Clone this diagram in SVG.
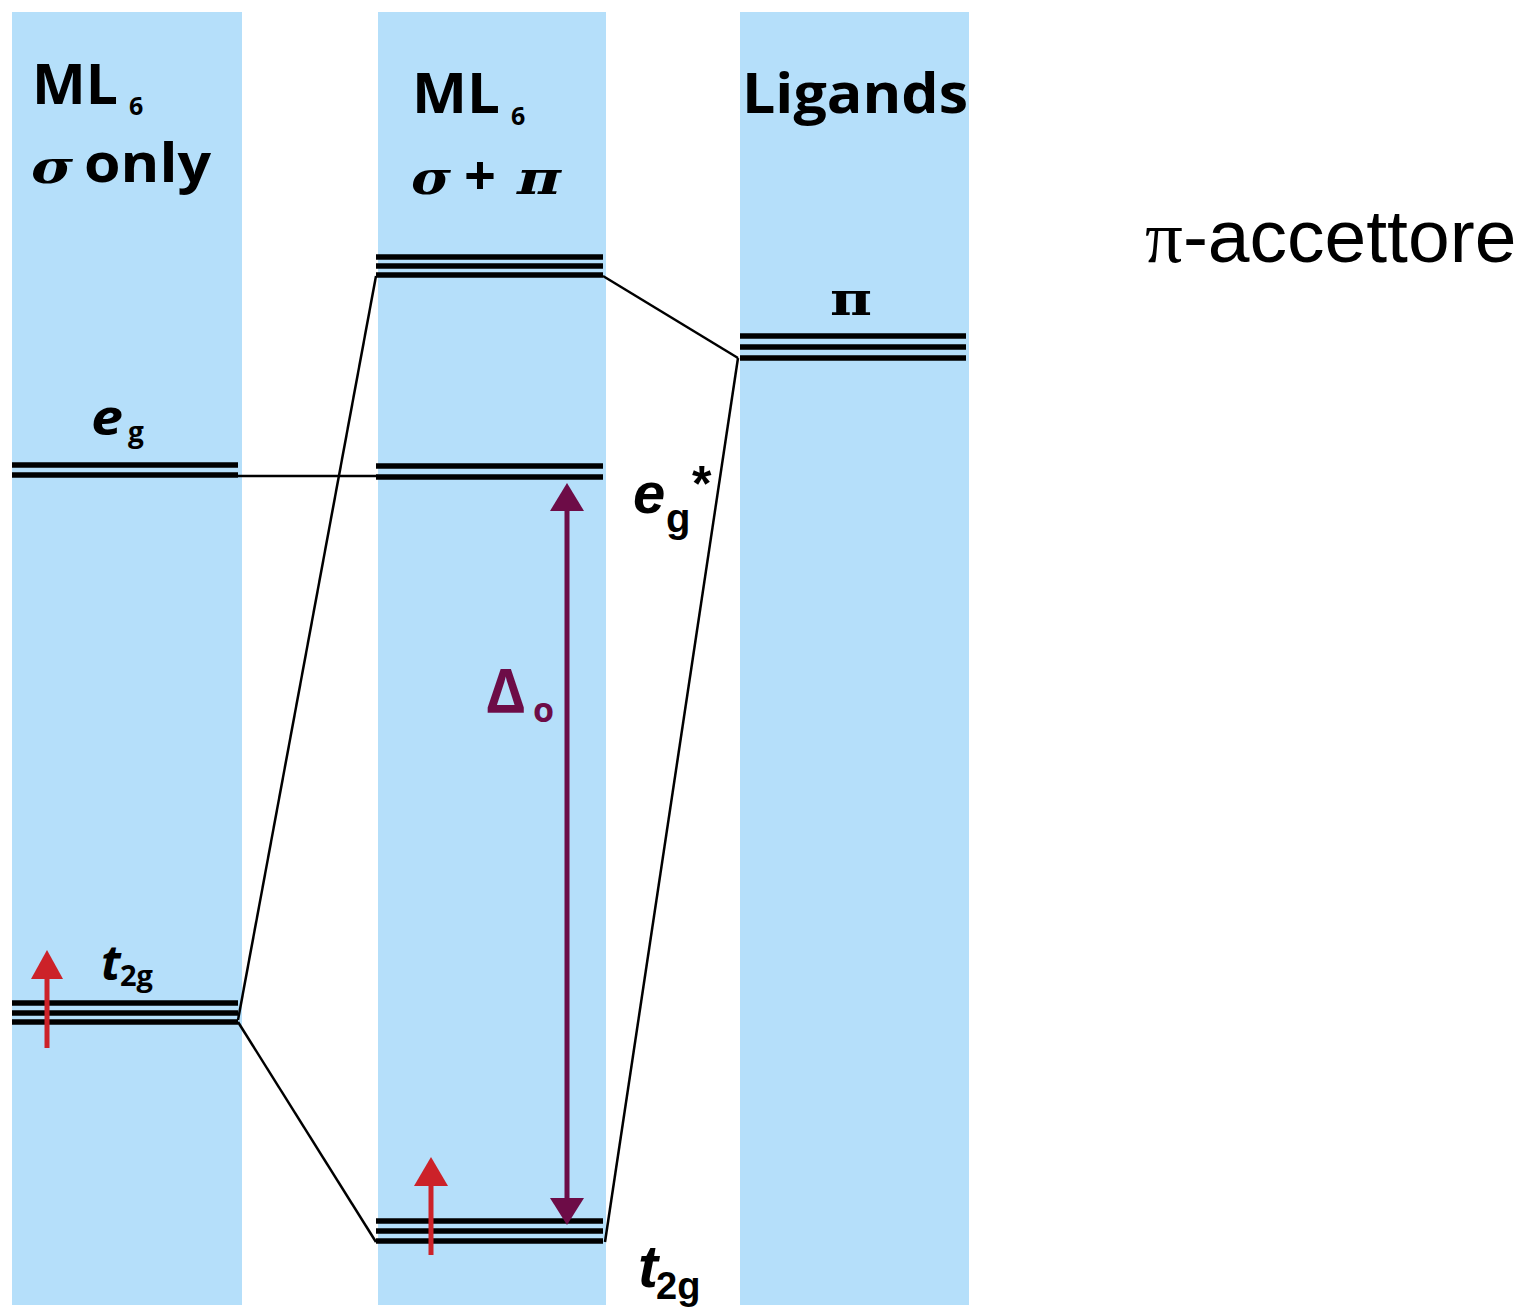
<svg xmlns="http://www.w3.org/2000/svg" width="1523" height="1307" viewBox="0 0 1523 1307">
<defs>
<style>
.col{fill:#b5dffa}
.lvl{stroke:#000;stroke-width:5.5;fill:none}
.con{stroke:#000;stroke-width:2.5;fill:none}
.hd{font-family:"Open Sans","Liberation Sans",sans-serif;font-weight:bold;fill:#000}
.gk{font-family:"DejaVu Serif","Liberation Serif",serif;font-weight:bold;font-style:italic;fill:#000}
.it{font-family:"Open Sans","Liberation Sans",sans-serif;font-weight:bold;font-style:italic;fill:#000}
.ar{font-family:"Liberation Sans",Arial,sans-serif;font-weight:bold;fill:#000}
.ari{font-family:"Liberation Sans",Arial,sans-serif;font-weight:bold;font-style:italic;fill:#000}
.red{stroke:#cc2229;stroke-width:5;fill:none}
.pur{stroke:#6d0c47;stroke-width:5;fill:none}
.purt{font-family:"Open Sans","Liberation Sans",sans-serif;font-weight:bold;fill:#6d0c47}
</style>
</defs>
<rect width="1523" height="1307" fill="#fff"/>
<g id="col-sigma">
<rect class="col" x="12" y="12" width="230" height="1293"/>
<text class="hd" x="32" y="104" font-size="56" textLength="86" lengthAdjust="spacingAndGlyphs">ML</text>
<text class="hd" x="129" y="115" font-size="25">6</text>
<text class="gk" x="31" y="183" font-size="46" textLength="42" lengthAdjust="spacingAndGlyphs">σ</text>
<text class="hd" x="84" y="182" font-size="54" textLength="127" lengthAdjust="spacingAndGlyphs">only</text>
</g>
<g id="col-sigmapi">
<rect class="col" x="378" y="12" width="228" height="1293"/>
<text class="hd" x="412" y="113" font-size="56" textLength="88" lengthAdjust="spacingAndGlyphs">ML</text>
<text class="hd" x="511" y="125" font-size="25">6</text>
<text class="gk" x="411" y="194" font-size="46" textLength="40" lengthAdjust="spacingAndGlyphs">σ</text>
<text class="hd" x="464" y="195" font-size="56">+</text>
<text class="gk" x="517" y="194" font-size="46" textLength="44" lengthAdjust="spacingAndGlyphs">π</text>
</g>
<g id="col-ligands">
<rect class="col" x="740" y="12" width="229" height="1293"/>
<text class="hd" x="742" y="113" font-size="56" textLength="226" lengthAdjust="spacingAndGlyphs">Ligands</text>
</g>
<g id="sigma-eg">
<line class="lvl" x1="12" y1="465" x2="238" y2="465"/>
<line class="lvl" x1="12" y1="475" x2="238" y2="475"/>
<text class="it" x="91" y="435" font-size="50" textLength="32" lengthAdjust="spacingAndGlyphs">e</text>
<text class="hd" x="128" y="442" font-size="28">g</text>
</g>
<g id="sigma-t2g">
<line class="lvl" x1="12" y1="1003" x2="238" y2="1003"/>
<line class="lvl" x1="12" y1="1013" x2="238" y2="1013"/>
<line class="lvl" x1="12" y1="1022" x2="238" y2="1022"/>
<text class="it" x="101" y="980" font-size="48">t</text>
<text class="hd" x="120" y="986" font-size="29">2g</text>
<line class="red" x1="47" y1="1048" x2="47" y2="975"/>
<polygon points="47,950 31,979 63,979" fill="#cc2229"/>
</g>
<g id="sigmapi-top">
<line class="lvl" x1="376" y1="257" x2="603" y2="257"/>
<line class="lvl" x1="376" y1="266" x2="603" y2="266"/>
<line class="lvl" x1="376" y1="275" x2="603" y2="275"/>
</g>
<g id="sigmapi-eg">
<line class="lvl" x1="376" y1="466" x2="603" y2="466"/>
<line class="lvl" x1="376" y1="477" x2="603" y2="477"/>
<text class="ari" x="633" y="513" font-size="58">e</text>
<text class="ar" x="666" y="532" font-size="40">g</text>
<text class="ar" x="692" y="501" font-size="50">*</text>
</g>
<g id="sigmapi-t2g">
<line class="lvl" x1="376" y1="1221" x2="603" y2="1221"/>
<line class="lvl" x1="376" y1="1231" x2="603" y2="1231"/>
<line class="lvl" x1="376" y1="1241" x2="603" y2="1241"/>
<text class="ari" x="638" y="1287" font-size="60">t</text>
<text class="ar" x="656" y="1299" font-size="38">2g</text>
<line class="red" x1="431" y1="1255" x2="431" y2="1180"/>
<polygon points="431,1157 414,1186 448,1186" fill="#cc2229"/>
</g>
<g id="delta">
<line class="pur" x1="567" y1="505" x2="567" y2="1205"/>
<polygon points="567,483 550,511 584,511" fill="#6d0c47"/>
<polygon points="567,1225 550,1198 584,1198" fill="#6d0c47"/>
<text class="purt" x="486" y="713" font-size="60">Δ</text>
<text class="purt" x="533" y="722" font-size="34">o</text>
</g>
<g id="ligand-pi">
<line class="lvl" x1="740" y1="336" x2="966" y2="336"/>
<line class="lvl" x1="740" y1="347" x2="966" y2="347"/>
<line class="lvl" x1="740" y1="358" x2="966" y2="358"/>
<text x="830" y="315" font-family="DejaVu Serif, serif" font-weight="bold" font-size="46" textLength="42" lengthAdjust="spacingAndGlyphs">π</text>
</g>
<g id="connectors">
<line class="con" x1="238" y1="1020" x2="376" y2="276"/>
<line class="con" x1="238" y1="1022" x2="376" y2="1242"/>
<line class="con" x1="238" y1="476" x2="378" y2="476"/>
<line class="con" x1="603" y1="276" x2="738" y2="358"/>
<line class="con" x1="738" y1="358" x2="605" y2="1242"/>
</g>
<g id="caption">
<text x="1145" y="262" font-family="Liberation Sans, Arial, sans-serif" font-size="75" fill="#000"><tspan font-family="Liberation Serif, serif">π</tspan>-accettore</text>
</g>
</svg>
